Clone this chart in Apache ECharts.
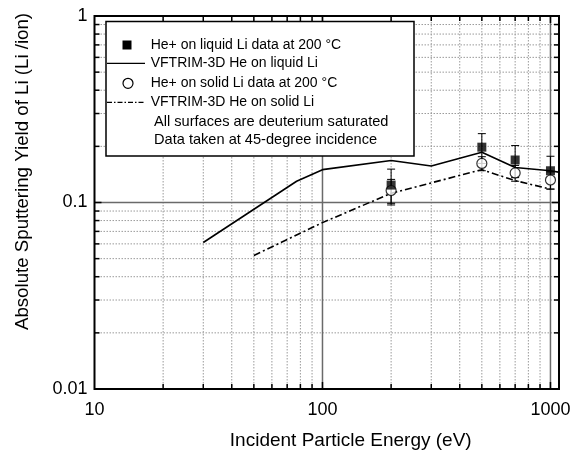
<!DOCTYPE html>
<html><head><meta charset="utf-8">
<script src="https://cdn.jsdelivr.net/npm/echarts@6/dist/echarts.min.js"></script>
<style>html,body{margin:0;padding:0;background:#fff}#c{width:583px;height:455px}</style>
</head><body><div id="c"></div>
<script>
// ---- data ----
const liquidTrimE = [30, 77, 100, 200, 300, 500, 700, 1000, 1100];
const liquidTrimY = [0.061, 0.130, 0.150, 0.168, 0.157, 0.186, 0.154, 0.148, 0.145];
const solidTrimE = [50, 100, 200, 500, 700, 1000];
const solidTrimY = [0.052, 0.078, 0.112, 0.150, 0.131, 0.118];
const dataE = [200, 500, 700, 1000];
const liquidY = [0.124, 0.198, 0.169, 0.148];
const liquidErrLow = [0.097, 0.162, 0.136, 0.118];
const liquidErrHigh = [0.151, 0.234, 0.202, 0.177];
const solidY = [0.116, 0.162, 0.144, 0.132];
const solidErrLow = [0.099, 0.148, 0.130, 0.118];
const solidErrHigh = [0.133, 0.176, 0.158, 0.146];
const xMinor = [20,30,40,50,60,70,80,90,200,300,400,500,600,700,800,900];
const yMinor = [0.02,0.03,0.04,0.05,0.06,0.07,0.08,0.09,0.2,0.3,0.4,0.5,0.6,0.7,0.8,0.9];
const xMajor = [100, 1000];
const yMajor = [0.1];
const X_MIN = 10, X_MAX = 1090, Y_MIN = 0.01, Y_MAX = 1;
const names = ['He+ on liquid Li data at 200 °C','VFTRIM-3D He on liquid Li','He+ on solid Li data at 200 °C','VFTRIM-3D He on solid Li'];
const notes = ['All surfaces are deuterium saturated','Data taken at 45-degree incidence'];

const FONT = 'Liberation Sans, Arial, sans-serif';
const chart = echarts.init(document.getElementById('c'));

function zip(a,b){return a.map((v,i)=>[v,b[i]]);}
function isDecade(v){const l=Math.log10(v);return Math.abs(l-Math.round(l))<1e-6;}

function gridItem(params, api){
  const kind = api.value(2); // 0: x minor, 1: y minor, 2: x major, 3: y major
  const v = kind===0||kind===2 ? api.value(0) : api.value(1);
  let a,b;
  if(kind===0||kind===2){a=api.coord([v,Y_MAX]);b=api.coord([v,Y_MIN]);}
  else {a=api.coord([X_MIN,v]);b=api.coord([X_MAX,v]);}
  const major = kind>=2;
  const st = major ? {stroke:'#6a6a6a',lineWidth:1.5} : {stroke:'#9a9a9a',lineWidth:1,lineDash:[1.5,1.5]};
  const t = major?7:5;
  const ch=[{type:'line',shape:{x1:a[0],y1:a[1],x2:b[0],y2:b[1]},style:st,silent:true}];
  const ts={stroke:'#000',lineWidth:1.5};
  if(kind===0||kind===2){
    ch.push({type:'line',shape:{x1:b[0],y1:b[1],x2:b[0],y2:b[1]-t},style:ts});
    ch.push({type:'line',shape:{x1:a[0],y1:a[1],x2:a[0],y2:a[1]+t},style:ts});
  } else {
    ch.push({type:'line',shape:{x1:a[0],y1:a[1],x2:a[0]+t,y2:a[1]},style:ts});
    ch.push({type:'line',shape:{x1:b[0],y1:b[1],x2:b[0]-t,y2:b[1]},style:ts});
  }
  return {type:'group',children:ch};
}
const gridData = [].concat(
  xMinor.map(v=>[v,0.1,0]), yMinor.map(v=>[100,v,1]),
  xMajor.map(v=>[v,0.1,2]), yMajor.map(v=>[100,v,3]));

function errItem(params, api){
  const x=api.value(0);
  const lo=api.coord([x,api.value(1)]), hi=api.coord([x,api.value(2)]);
  const w=4, st={stroke:'#000',lineWidth:1};
  return {type:'group',children:[
    {type:'line',shape:{x1:lo[0],y1:lo[1],x2:hi[0],y2:hi[1]},style:st},
    {type:'line',shape:{x1:lo[0]-w,y1:lo[1],x2:lo[0]+w,y2:lo[1]},style:st},
    {type:'line',shape:{x1:hi[0]-w,y1:hi[1],x2:hi[0]+w,y2:hi[1]},style:st}
  ]};
}

function legendText(t, x, y, size){
  return {type:'text',x:x,y:y,z:20,silent:true,
    style:{text:t,font:size+'px '+FONT,fill:'#000',verticalAlign:'middle'}};
}

chart.setOption({
  animation:false,
  backgroundColor:'#fff',
  grid:{left:94.5,right:24,top:16,bottom:64,show:true,borderColor:'#000',borderWidth:2,backgroundColor:'transparent',z:10},
  xAxis:{type:'log',logBase:10,min:X_MIN,max:X_MAX,
    name:'Incident Particle Energy (eV)',nameLocation:'middle',nameGap:42,
    nameTextStyle:{fontFamily:FONT,fontSize:19,color:'#000',padding:[0,0,0,48]},
    axisLine:{show:false},axisTick:{show:false},
    axisLabel:{margin:12,fontFamily:FONT,fontSize:18,color:'#000',formatter:v=>isDecade(v)?String(Math.round(v)):''},
    splitLine:{show:false}},
  yAxis:{type:'log',logBase:10,min:Y_MIN,max:Y_MAX,
    name:'Absolute Sputtering Yield of Li (Li /ion)',nameLocation:'middle',nameGap:62,
    nameTextStyle:{fontFamily:FONT,fontSize:18.7,color:'#000',padding:[0,0,0,62]},
    axisLine:{show:false},axisTick:{show:false},
    axisLabel:{margin:7,fontFamily:FONT,fontSize:18,color:'#000',formatter:v=>isDecade(v)?String(+v.toPrecision(3)):''},
    splitLine:{show:false}},
  graphic:[
    {type:'rect',x:106,y:21.5,shape:{width:308,height:134.5},style:{fill:'#fff',stroke:'#000',lineWidth:1.5},z:15,silent:true},
    {type:'rect',x:122.5,y:40.5,shape:{width:9,height:9},style:{fill:'#000'},z:20,silent:true},
    {type:'line',shape:{x1:107,y1:63.3,x2:145,y2:63.3},style:{stroke:'#000',lineWidth:1.3},z:20,silent:true},
    {type:'circle',shape:{cx:128,cy:83.3,r:5},style:{fill:'#fff',stroke:'#000',lineWidth:1.2},z:20,silent:true},
    {type:'line',shape:{x1:107,y1:102.3,x2:145,y2:102.3},style:{stroke:'#000',lineWidth:1.2,lineDash:[5,2,1.5,2]},z:20,silent:true},
    legendText(names[0],150.7,45,14),
    legendText(names[1],150.7,63.3,14),
    legendText(names[2],150.7,83.3,14),
    legendText(names[3],150.7,102.3,14),
    legendText(notes[0],154,121.7,14.6),
    legendText(notes[1],154,139.5,14.6)
  ],
  series:[
    {type:'custom',name:'grid',renderItem:gridItem,data:gridData,silent:true,z:1,clip:false},
    {type:'line',name:names[1],data:zip(liquidTrimE,liquidTrimY),symbol:'none',color:'#000',
      lineStyle:{color:'#000',width:1.6},z:5},
    {type:'line',name:names[3],data:zip(solidTrimE,solidTrimY),symbol:'none',color:'#000',
      lineStyle:{color:'#000',width:1.6,type:[7,3,2,3]},z:5},
    {type:'custom',name:'errLiquid',renderItem:errItem,data:dataE.map((e,i)=>[e,liquidErrLow[i],liquidErrHigh[i]]),z:6},
    {type:'custom',name:'errSolid',renderItem:errItem,data:dataE.map((e,i)=>[e,solidErrLow[i],solidErrHigh[i]]),z:6},
    {type:'scatter',name:names[2],data:zip(dataE,solidY),symbol:'circle',symbolSize:10,
      itemStyle:{color:'#fff',borderColor:'#000',borderWidth:1.2},z:7},
    {type:'scatter',name:names[0],data:zip(dataE,liquidY),symbol:'rect',symbolSize:9,
      itemStyle:{color:'#000'},z:8}
  ]
});
</script></body></html>
